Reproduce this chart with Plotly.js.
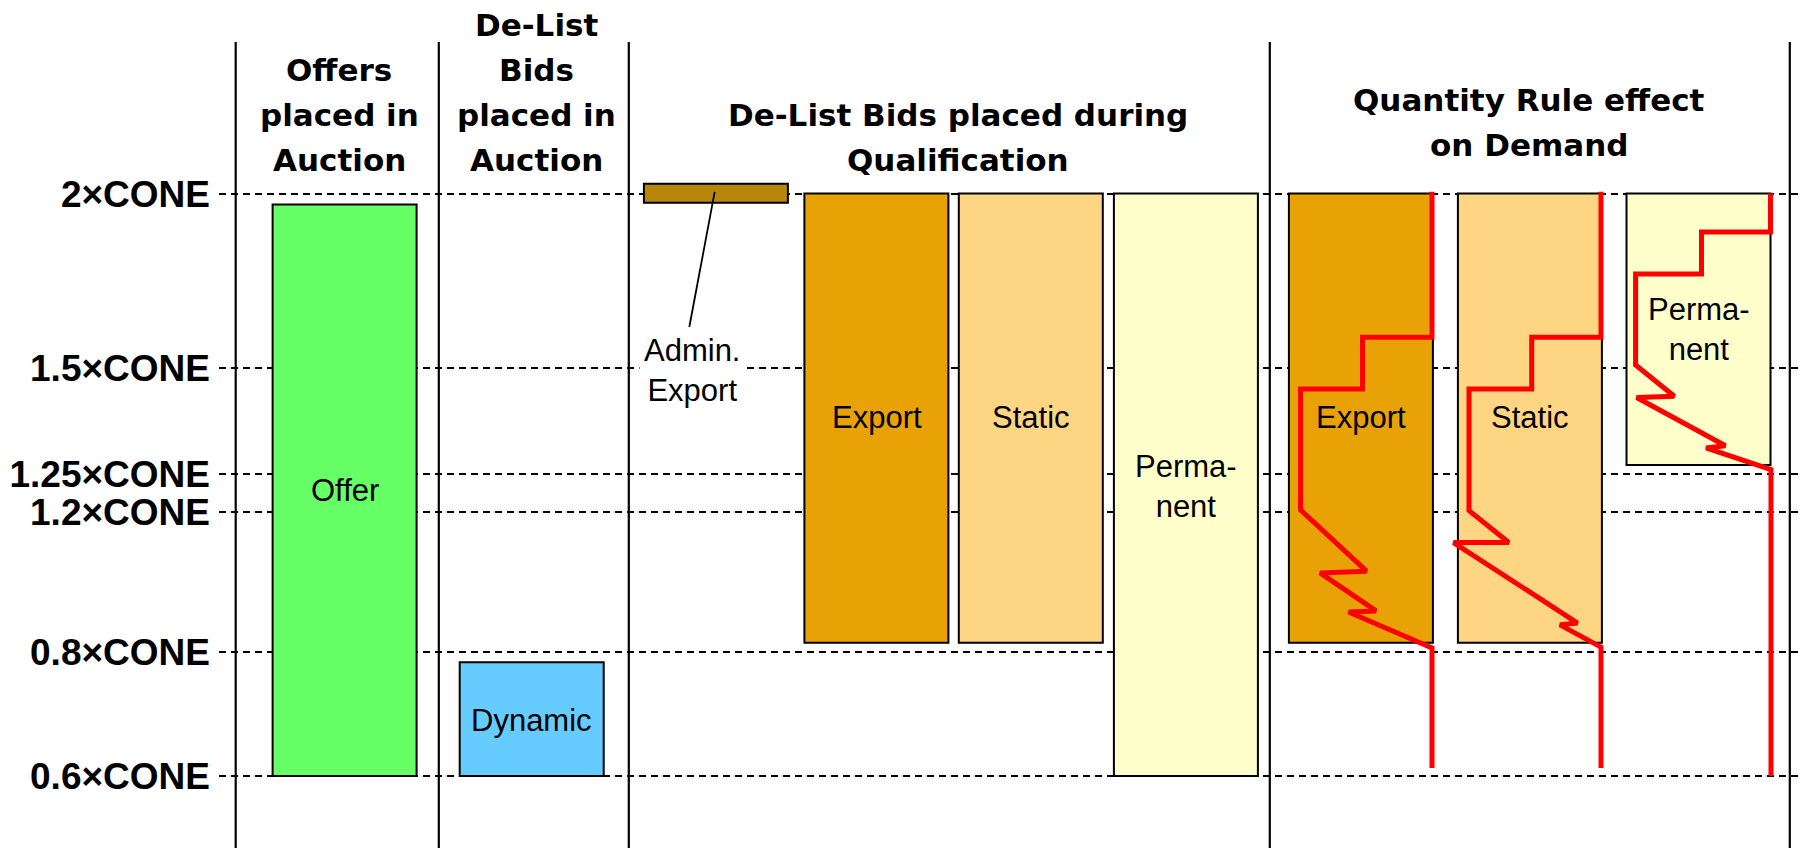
<!DOCTYPE html>
<html>
<head>
<meta charset="utf-8">
<script src="https://cdn.plot.ly/plotly-3.0.1.min.js"></script>
<style>html,body{margin:0;padding:0;background:#fff;}#chart{width:1802px;height:848px;}</style>
</head>
<body>
<div id="chart"></div>
<script>
// ---- price levels (multiples of CONE) and their tick labels ----
const levelValues = [2.0, 1.5, 1.25, 1.2, 0.8, 0.6];
const tickLabels = ['2×CONE', '1.5×CONE', '1.25×CONE', '1.2×CONE', '0.8×CONE', '0.6×CONE'];
// schematic (non-linear) placement of each price level on the vertical scale
const levelScale = [193.6, 367.8, 473.8, 512.2, 651.7, 776];

// ---- boxes: price ranges in CONE multiples ----
const boxNames = ['Offer', 'Dynamic', 'Admin. Export', 'Export', 'Static', 'Permanent', 'QR Export', 'QR Static', 'QR Permanent'];
const boxTop = [1.969, 0.783, 2.028, 2.0, 2.0, 2.0, 2.0, 2.0, 2.0];
const boxBottom = [0.6, 0.6, 1.974, 0.826, 0.826, 0.6, 0.826, 0.826, 1.271];
const boxColors = ['#66FF66', '#66CCFF', '#B8860B', '#E8A206', '#FED582', '#FFFFCC', '#E8A206', '#FED582', '#FFFFCC'];

// ---- Quantity Rule demand curves (quantity position, price in CONE) ----
const exportCurveQ = [1432, 1432, 1362.5, 1362.5, 1300.5, 1300.5, 1366.5, 1320, 1376, 1348.5, 1432, 1432];
const exportCurveP = [2.005, 1.588, 1.588, 1.45, 1.45, 1.203, 1.031, 1.026, 0.917, 0.914, 0.811, 0.613];
const staticCurveQ = [1601, 1601, 1531.7, 1531.7, 1469, 1469, 1508.8, 1453.5, 1577.5, 1560, 1601, 1601];
const staticCurveP = [2.005, 1.588, 1.588, 1.45, 1.45, 1.202, 1.113, 1.113, 0.882, 0.877, 0.813, 0.613];
const permCurveQ = [1770.5, 1770.5, 1701.5, 1701.5, 1635.6, 1635.6, 1674.3, 1636.6, 1725.4, 1706, 1771, 1771];
const permCurveP = [2.0, 1.890, 1.890, 1.769, 1.769, 1.508, 1.433, 1.430, 1.316, 1.311, 1.260, 0.6];

// ---- leader line for the Admin. Export label ----
const leaderQ = [714.7, 689.3];
const leaderP = [2.005, 1.617];

// ---- layout configuration (positions / styles) ----
const boxCenters = [344.6, 531.7, 715.9, 876.4, 1030.8, 1185.9, 1360.9, 1529.9, 1698.5];
const boxWidth = 144;
const separators = [235.7, 438.8, 628.8, 1269.8, 1789.8];
const titleLines = [
  ['Offers', 339.3, 70], ['placed in', 339.3, 115], ['Auction', 339.3, 159.5],
  ['De-List', 536.6, 24.5], ['Bids', 536.6, 70], ['placed in', 536.6, 115], ['Auction', 536.6, 159.5],
  ['De-List Bids placed during', 957.5, 115], ['Qualification', 957.5, 159.5],
  ['Quantity Rule effect', 1529.4, 100], ['on Demand', 1529.4, 145]
];
const boxLabels = [
  ['Offer', 345, 1.228, false], ['Dynamic', 531.7, 0.69, false],
  ['Admin.<br>Export', 691.5, 1.493, true],
  ['Export', 876.8, 1.382, false], ['Static', 1031, 1.382, false], ['Perma-<br>nent', 1186, 1.234, false],
  ['Export', 1361.3, 1.382, false], ['Static', 1529.6, 1.382, false], ['Perma-<br>nent', 1699, 1.61, false]
];

function coneToScale(v) {
  let i;
  for (i = 0; i < levelValues.length - 2; i++) { if (v >= levelValues[i + 1]) break; }
  const v0 = levelValues[i], v1 = levelValues[i + 1], p0 = levelScale[i], p1 = levelScale[i + 1];
  return p0 + (v - v0) * (p1 - p0) / (v1 - v0);
}

const tops = boxTop.map(coneToScale);
const bottoms = boxBottom.map(coneToScale);

const traces = [];
traces.push({
  type: 'bar', x: boxCenters, base: tops, y: bottoms.map((b, i) => b - tops[i]),
  width: boxCenters.map(() => boxWidth), name: 'boxes', text: boxNames, textposition: 'none',
  marker: { color: boxColors, line: { color: '#000', width: 2 } }, hoverinfo: 'skip'
});
[[exportCurveQ, exportCurveP], [staticCurveQ, staticCurveP], [permCurveQ, permCurveP]].forEach(c => {
  traces.push({ type: 'scatter', mode: 'lines', x: c[0], y: c[1].map(coneToScale),
    line: { color: '#FF0000', width: 5 }, hoverinfo: 'skip' });
});
traces.push({ type: 'scatter', mode: 'lines', x: leaderQ, y: leaderP.map(coneToScale),
  line: { color: '#000', width: 1.8 }, hoverinfo: 'skip' });

const annotations = [];
titleLines.forEach(t => annotations.push({
  text: t[0], x: t[1], y: t[2], xref: 'x', yref: 'y', showarrow: false, xanchor: 'center', yanchor: 'middle',
  font: { family: 'DejaVu Sans', size: 31, weight: 'bold', color: '#000' }
}));
boxLabels.forEach(l => annotations.push({
  text: l[0], x: l[1], y: coneToScale(l[2]), xref: 'x', yref: 'y', showarrow: false, xanchor: 'center', yanchor: 'middle',
  bgcolor: l[3] ? '#FFFFFF' : 'rgba(0,0,0,0)', borderpad: 4,
  font: { family: 'Liberation Sans, Arial, sans-serif', size: 31, color: '#000' }
}));

const shapes = separators.map(s => ({
  type: 'line', xref: 'x', yref: 'paper', x0: s, x1: s, y0: 0, y1: 1 - 42 / 848,
  line: { color: '#000', width: 2.2 }, layer: 'below'
}));

const layout = {
  width: 1802, height: 848,
  margin: { l: 219, r: 0, t: 0, b: 0, pad: 0 },
  paper_bgcolor: '#fff', plot_bgcolor: '#fff',
  showlegend: false, barmode: 'overlay',
  xaxis: { range: [219, 1802], visible: false, fixedrange: true },
  yaxis: {
    range: [848, 0], tickmode: 'array', tickvals: levelValues.map(coneToScale), ticktext: tickLabels,
    ticks: '', showline: false, zeroline: false, showgrid: true,
    gridcolor: '#000', gridwidth: 2, griddash: '7px,5px', ticklabelstandoff: 8,
    tickfont: { family: 'Liberation Sans, Arial, sans-serif', size: 37, weight: 'bold', color: '#000' },
    fixedrange: true
  },
  annotations: annotations, shapes: shapes
};

Plotly.newPlot('chart', traces, layout, { displayModeBar: false, staticPlot: true });
</script>
</body>
</html>
